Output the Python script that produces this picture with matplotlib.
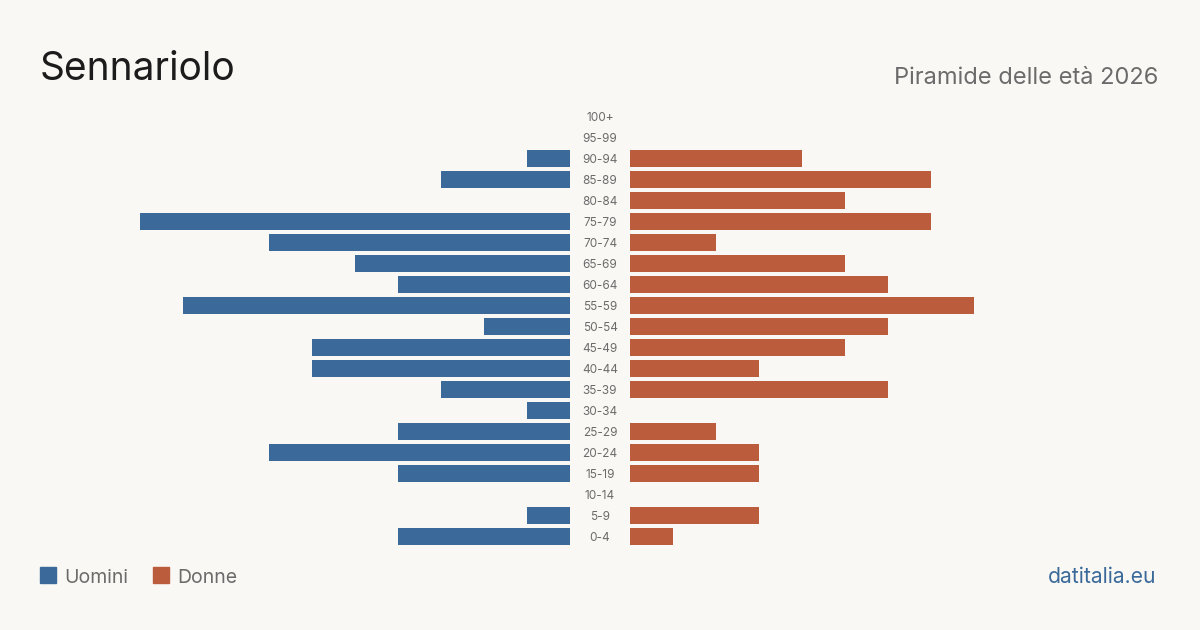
import matplotlib.pyplot as plt
import matplotlib.patches as mpatches
import matplotlib.transforms as mtransforms

plt.rcParams['font.family'] = ['Inter', 'DejaVu Sans']

# dati: classi di età dal basso verso l'alto
classi = ['0-4', '5-9', '10-14', '15-19', '20-24', '25-29', '30-34', '35-39',
          '40-44', '45-49', '50-54', '55-59', '60-64', '65-69', '70-74',
          '75-79', '80-84', '85-89', '90-94', '95-99', '100+']
uomini = [4, 1, 0, 4, 7, 4, 1, 3, 6, 6, 2, 9, 4, 5, 7, 10, 0, 3, 1, 0, 0]
donne = [1, 3, 0, 3, 3, 2, 0, 6, 3, 5, 6, 8, 6, 5, 2, 7, 5, 7, 4, 0, 0]

BG = '#f9f8f4'
BLU = '#3b6a9a'
ROSSO = '#bb5c3c'
GRIGIO = '#6b6b6b'

W, H = 1200, 630
fig = plt.figure(figsize=(12, 6.3), dpi=100, facecolor=BG)

# posizioni in pixel -> frazioni della figura
y_top = 106.5
y_bot = 546.5
bottom = 1 - y_bot / H
height = (y_bot - y_top) / H
unit = 43.0  # px per persona

ax_l = fig.add_axes([40 / W, bottom, 530 / W, height])
ax_r = fig.add_axes([630 / W, bottom, 530 / W, height])

pos = list(range(len(classi)))
ax_l.barh(pos, uomini, height=0.81, color=BLU)
ax_r.barh(pos, donne, height=0.81, color=ROSSO)

ax_l.set_xlim(530 / unit, 0)
ax_r.set_xlim(0, 530 / unit)
for ax in (ax_l, ax_r):
    ax.set_ylim(-0.5, len(classi) - 0.5)
    ax.set_facecolor('none')
    ax.axis('off')

# etichette centrali
trans = mtransforms.blended_transform_factory(fig.transFigure, ax_l.transData)
for i, c in enumerate(classi):
    ax_l.text(600 / W, i, c, transform=trans, ha='center', va='center_baseline',
              fontsize=8.5, color=GRIGIO, clip_on=False)

# titoli
fig.text(40 / W, 1 - 80 / H, 'Sennariolo', fontsize=28, color='#1c1c1c',
         ha='left', va='baseline')
fig.text(1158 / W, 1 - 84 / H, 'Piramide delle età 2026', fontsize=17,
         color=GRIGIO, ha='right', va='baseline')

# legenda
fig.patches.append(mpatches.Rectangle((40 / W, 1 - 583 / H), 16 / W, 16 / H,
                                      transform=fig.transFigure, color=BLU))
fig.text(64 / W, 1 - 583 / H, 'Uomini', fontsize=14, color=GRIGIO,
         ha='left', va='baseline')
fig.patches.append(mpatches.Rectangle((153 / W, 1 - 583 / H), 16 / W, 16 / H,
                                      transform=fig.transFigure, color=ROSSO))
fig.text(177 / W, 1 - 583 / H, 'Donne', fontsize=14, color=GRIGIO,
         ha='left', va='baseline')

fig.text(1156 / W, 1 - 583 / H, 'datitalia.eu', fontsize=15.2, color='#3b6a9a',
         ha='right', va='baseline')

fig.savefig('out.png', dpi=100, facecolor=BG)
